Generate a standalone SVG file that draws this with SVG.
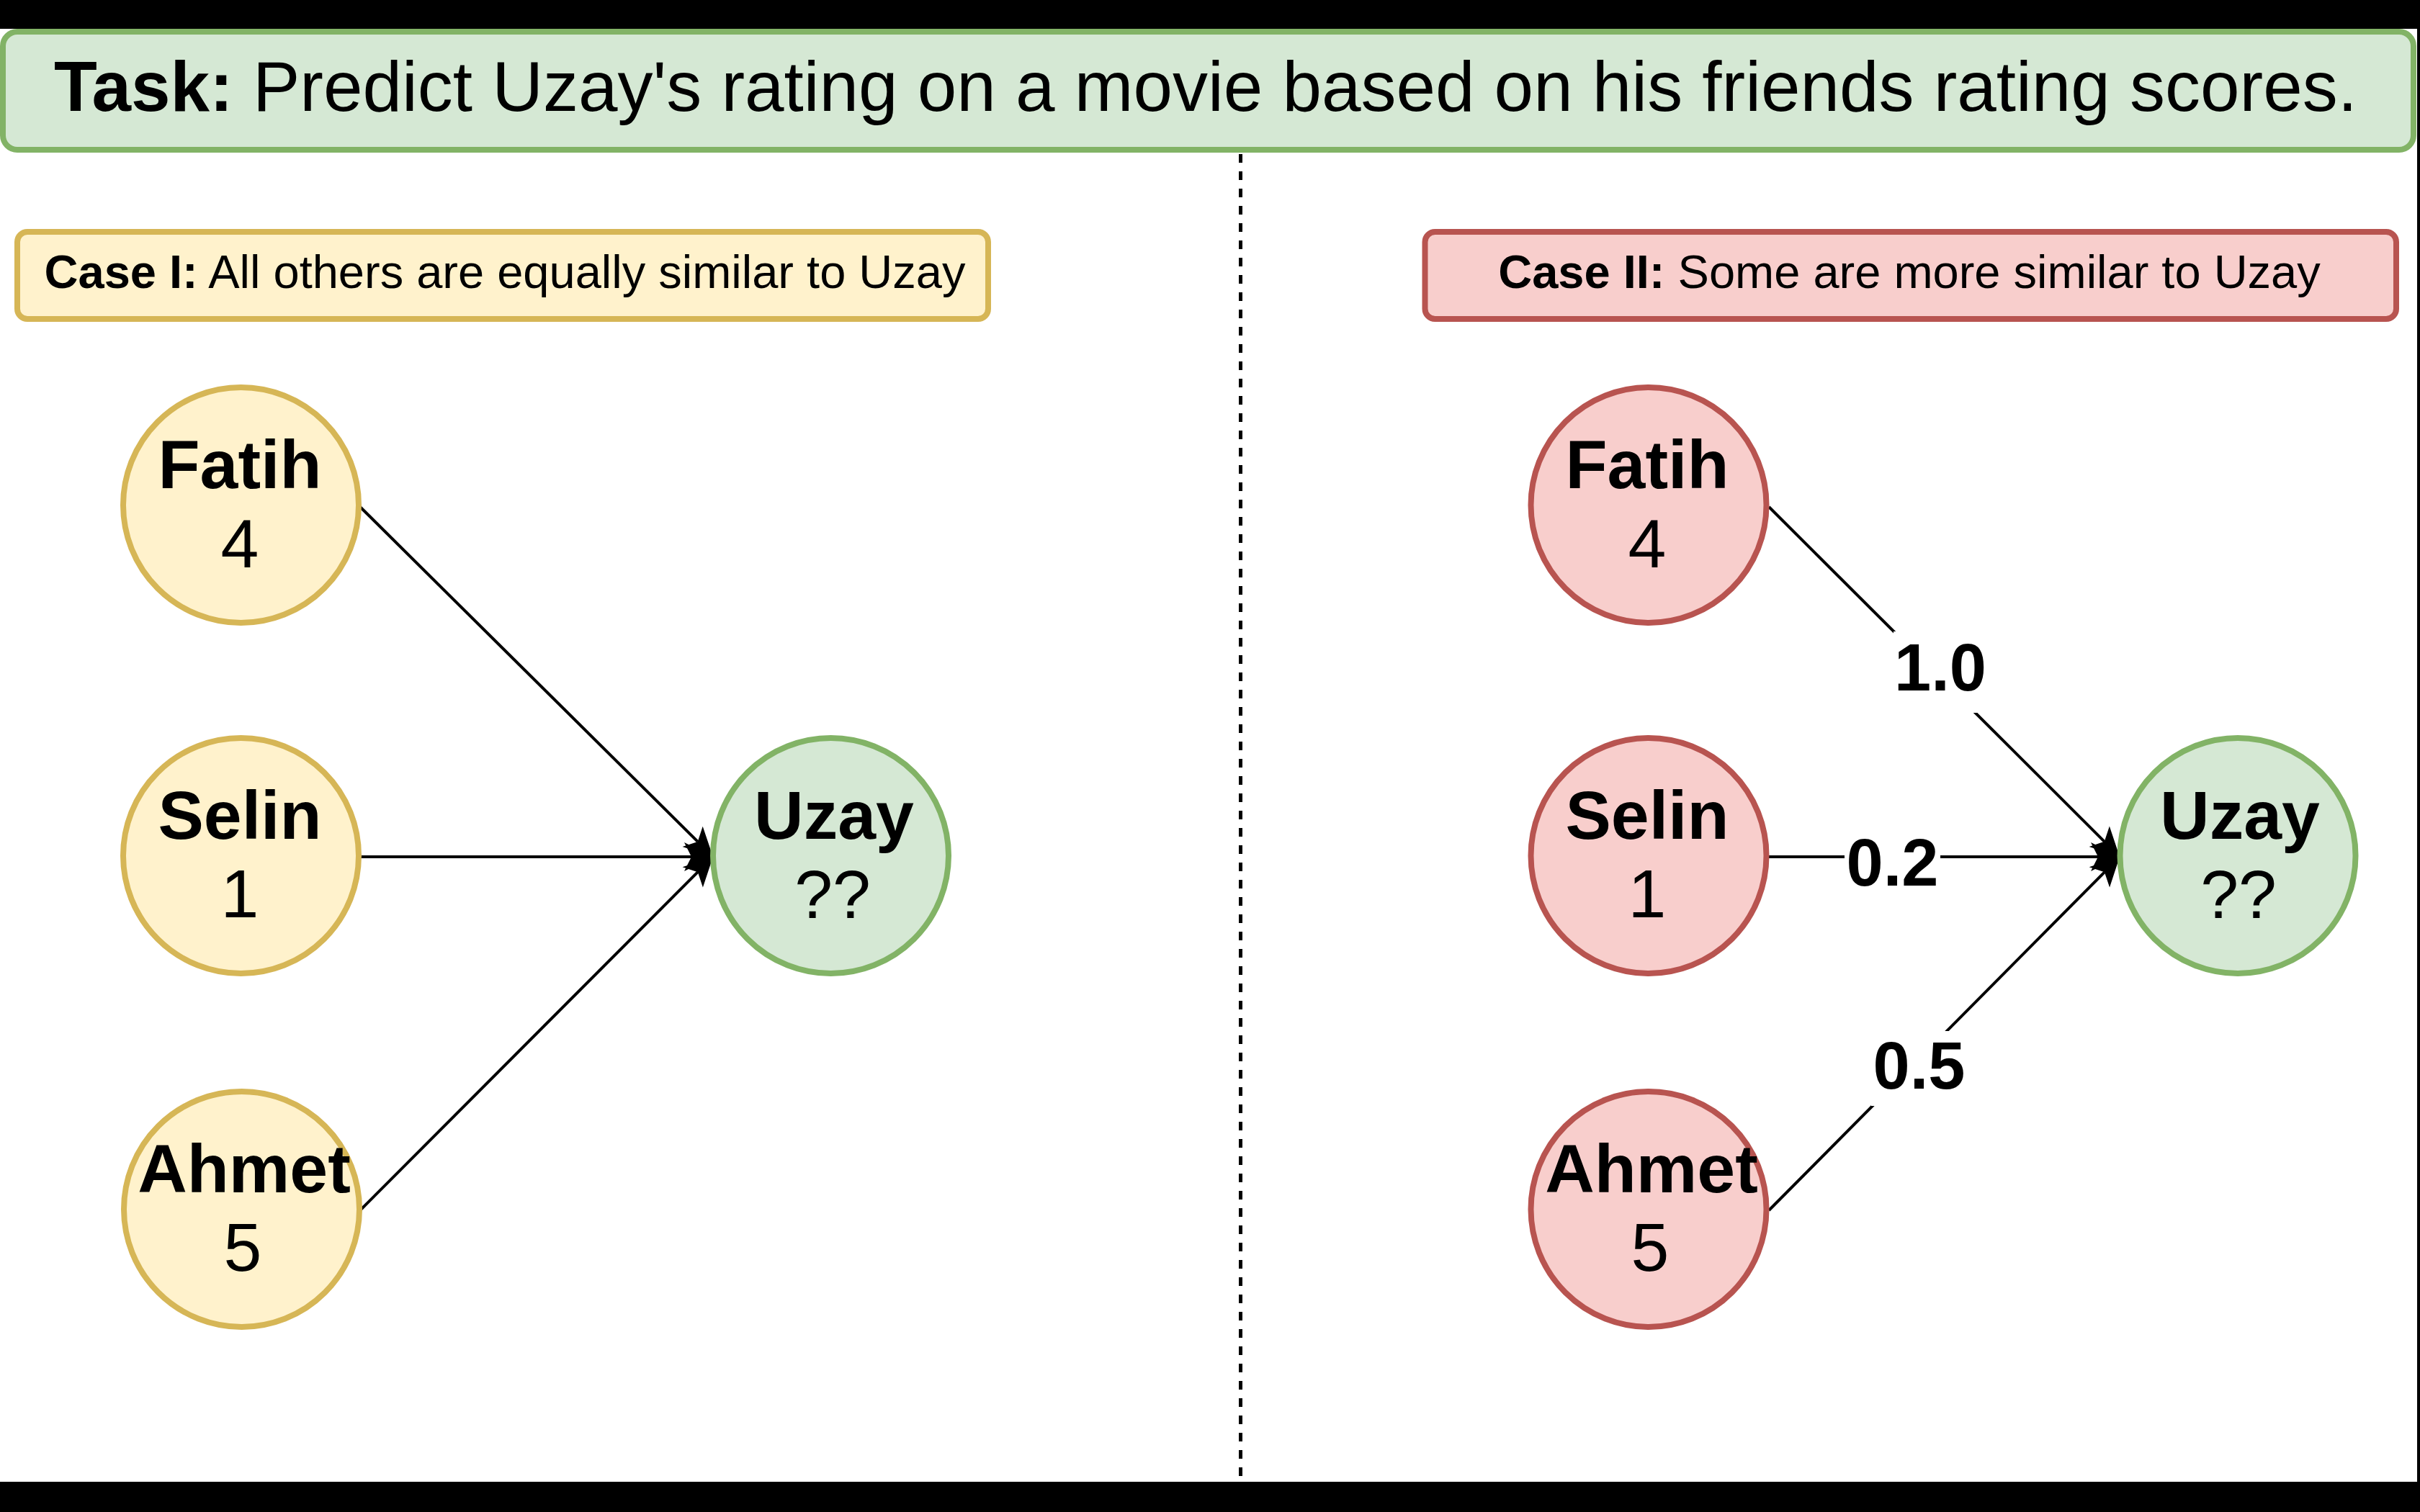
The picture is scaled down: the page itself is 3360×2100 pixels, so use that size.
<svg xmlns="http://www.w3.org/2000/svg" width="3360" height="2100" viewBox="0 0 3360 2100">
  <style>
    text { font-family: "Liberation Sans", Arial, Helvetica, sans-serif; fill: #000; }
    .b { font-weight: bold; }
    .title { font-size: 98px; }
    .case { font-size: 65px; }
    .name { font-size: 95px; font-weight: bold; text-anchor: middle; }
    .score { font-size: 95px; text-anchor: middle; }
    .weight { font-size: 92px; font-weight: bold; text-anchor: middle; }
    .green { fill: #d5e8d4; stroke: #82b366; stroke-width: 8; }
    .yellow { fill: #fff2cc; stroke: #d6b656; stroke-width: 8; }
    .red { fill: #f8cecc; stroke: #b85450; stroke-width: 8; }
    .edge { stroke: #000; stroke-width: 4; fill: none; marker-end: url(#arrow); }
    .divider { stroke: #000; stroke-width: 5; stroke-dasharray: 12 12; }
  </style>
  <defs>
    <marker id="arrow" markerUnits="userSpaceOnUse" viewBox="-12 -22 44 44" markerWidth="44" markerHeight="44" refX="0" refY="0" orient="auto">
      <path d="M30,0 L-10,-20 L0,0 L-10,20 Z" fill="#000"/>
    </marker>
  </defs>

  <rect width="3360" height="2100" fill="#fff"/>
  <!-- frame bars -->
  <rect x="0" y="0" width="3360" height="40" fill="#000"/>
  <rect x="0" y="2058" width="3360" height="42" fill="#000"/>
  <rect x="3356" y="0" width="4" height="2100" fill="#000"/>

  <!-- header -->
  <g id="task">
    <rect class="green" x="4" y="44" width="3347" height="164" rx="20"/>
    <text class="title" x="1674" y="154" text-anchor="middle"><tspan class="b">Task:</tspan> Predict Uzay's rating on a movie based on his friends rating scores.</text>
  </g>

  <!-- section divider -->
  <line class="divider" x1="1722.5" y1="214" x2="1722.5" y2="2058"/>

  <g id="case1">
    <rect class="yellow" x="24" y="322" width="1348" height="121" rx="14"/>
    <text class="case" x="701" y="400" text-anchor="middle"><tspan class="b">Case I:</tspan> All others are equally similar to Uzay</text>
  </g>
  <g id="case2">
    <rect class="red" x="1978.5" y="322" width="1348.5" height="121" rx="14"/>
    <text class="case" x="2651" y="400" text-anchor="middle"><tspan class="b">Case II:</tspan> Some are more similar to Uzay</text>
  </g>

  <!-- connectors -->
  <g id="connectors">
    <line class="edge" x1="500" y1="704" x2="968.7" y2="1168.9"/>
    <line class="edge" x1="500" y1="1190" x2="960" y2="1190"/>
    <line class="edge" x1="500" y1="1681" x2="968.8" y2="1211.2"/>

    <line class="edge" x1="2456" y1="704" x2="2921.8" y2="1168.8"/>
    <line class="edge" x1="2456" y1="1190" x2="2913" y2="1190"/>
    <line class="edge" x1="2456" y1="1681" x2="2921.9" y2="1211.3"/>

    <g id="w-fatih">
      <rect x="2629" y="877" width="131" height="113" fill="#fff"/>
      <text class="weight" x="2694" y="959">1.0</text>
    </g>
    <g id="w-selin">
      <rect x="2561" y="1140" width="133" height="118" fill="#fff"/>
      <text class="weight" x="2627.5" y="1229.5">0.2</text>
    </g>
    <g id="w-ahmet">
      <rect x="2598" y="1432" width="132" height="104" fill="#fff"/>
      <text class="weight" x="2664.5" y="1512">0.5</text>
    </g>
  </g>

  <!-- case I nodes -->
  <g id="fatih1">
    <circle class="yellow" cx="334.5" cy="701.5" r="163.5"/>
    <text class="name" x="333" y="678">Fatih</text>
    <text class="score" x="333" y="788">4</text>
  </g>
  <g id="selin1">
    <circle class="yellow" cx="334.5" cy="1188.5" r="163.5"/>
    <text class="name" x="333" y="1165">Selin</text>
    <text class="score" x="333" y="1274">1</text>
  </g>
  <g id="ahmet1">
    <circle class="yellow" cx="335.5" cy="1679.5" r="163.5"/>
    <text class="name" x="339" y="1656">Ahmet</text>
    <text class="score" x="337" y="1765">5</text>
  </g>
  <g id="uzay1">
    <circle class="green" cx="1153.5" cy="1188.5" r="163.5"/>
    <text class="name" x="1158" y="1165">Uzay</text>
    <text class="score" x="1156" y="1275">??</text>
  </g>

  <!-- case II nodes -->
  <g id="fatih2">
    <circle class="red" cx="2289" cy="701.5" r="163.5"/>
    <text class="name" x="2287" y="678">Fatih</text>
    <text class="score" x="2287" y="788">4</text>
  </g>
  <g id="selin2">
    <circle class="red" cx="2289" cy="1188.5" r="163.5"/>
    <text class="name" x="2287" y="1165">Selin</text>
    <text class="score" x="2287" y="1274">1</text>
  </g>
  <g id="ahmet2">
    <circle class="red" cx="2289" cy="1679.5" r="163.5"/>
    <text class="name" x="2293" y="1656">Ahmet</text>
    <text class="score" x="2291" y="1765">5</text>
  </g>
  <g id="uzay2">
    <circle class="green" cx="3107" cy="1188.5" r="163.5"/>
    <text class="name" x="3110" y="1165">Uzay</text>
    <text class="score" x="3108" y="1275">??</text>
  </g>
</svg>
